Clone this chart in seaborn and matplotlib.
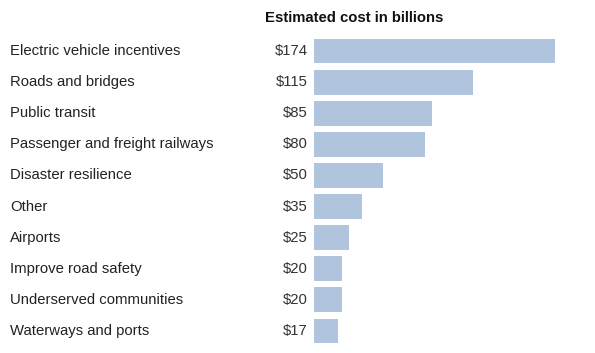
import pandas as pd
import matplotlib.pyplot as plt
import matplotlib.transforms as mtransforms
import seaborn as sns

categories = [
    "Electric vehicle incentives",
    "Roads and bridges",
    "Public transit",
    "Passenger and freight railways",
    "Disaster resilience",
    "Other",
    "Airports",
    "Improve road safety",
    "Underserved communities",
    "Waterways and ports",
]
costs = [174, 115, 85, 80, 50, 35, 25, 20, 20, 17]

df = pd.DataFrame({"category": categories, "cost": costs})

sns.set_style("white")
plt.rcParams['font.family'] = ['Liberation Sans', 'DejaVu Sans']

W, H = 595, 353
fig = plt.figure(figsize=(W / 100, H / 100), dpi=100)

# bar area in pixels
left, right = 314, 555
top, bottom = 35.5, 346.5
ax = fig.add_axes([left / W, 1 - bottom / H, (right - left) / W, (bottom - top) / H])

sns.barplot(data=df, x="cost", y="category", orient="h", color="#b0c4de",
            saturation=1, width=0.8, linewidth=0, ax=ax)
ax.set_xlim(0, 174)
ax.set_ylim(len(categories) - 0.5, -0.5)
ax.set_axis_off()

trans = mtransforms.blended_transform_factory(fig.transFigure, ax.transData)
for i, (cat, val) in enumerate(zip(categories, costs)):
    fig.text(10 / W, i, cat, transform=trans, ha="left", va="center",
             fontsize=10.7, color="#222222")
    fig.text(308 / W, i, f"${val}", transform=trans, ha="right", va="center",
             fontsize=10.7, color="#333333")

fig.text(354 / W, 1 - 18 / H, "Estimated cost in billions", ha="center", va="center",
         fontsize=10.7, fontweight="bold", color="#111111")

fig.savefig("out.png", dpi=100)
